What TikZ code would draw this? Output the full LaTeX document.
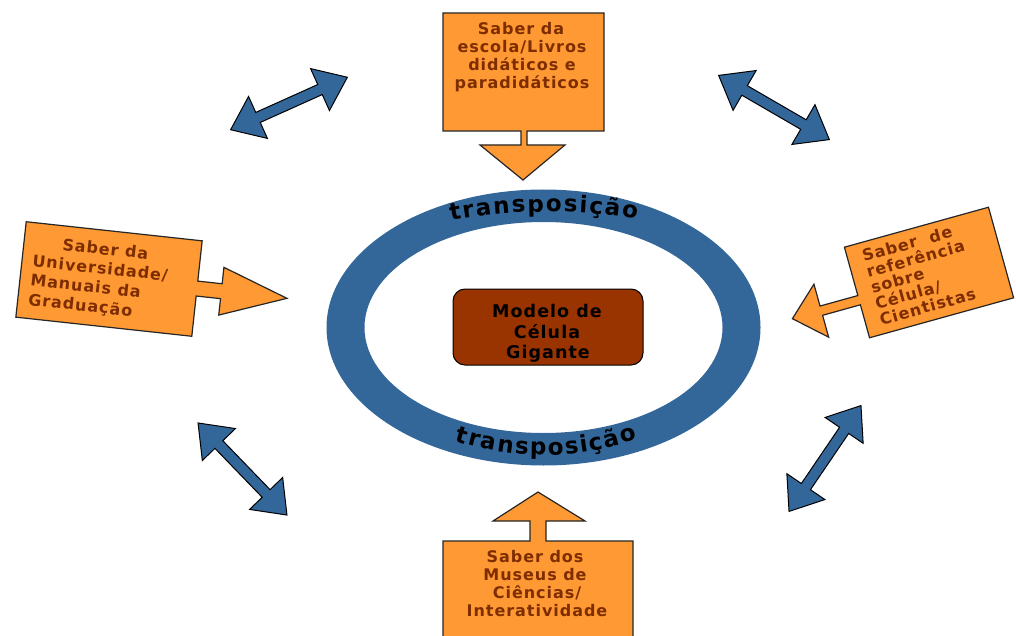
\documentclass[tikz,border=0pt]{standalone}
\usepackage{fontspec}
\newfontfamily\lblfont{DejaVu Sans}[LetterSpace=6]
\newfontfamily\trfont{DejaVu Sans}
\usetikzlibrary{decorations.text}
\definecolor{ringblue}{RGB}{51,102,153}
\definecolor{boxorange}{RGB}{255,153,51}
\definecolor{lblbrown}{RGB}{125,45,0}
\definecolor{cellbrown}{RGB}{153,51,0}
\tikzset{
  orangeshape/.style={fill=boxorange, draw=black!85, line width=1.2pt, line join=miter},
  bluedblarrow/.style={fill=ringblue, draw=black, line width=1pt, line join=miter},
  lbl/.style={font=\lblfont\bfseries\fontsize{16}{18}\selectfont, text=lblbrown, inner sep=0pt},
  celllbl/.style={font=\lblfont\bfseries\fontsize{17.5}{20}\selectfont, text=black, inner sep=0pt},
  dblarrow/.pic={\draw[bluedblarrow] (-64,0) -- (-34,-23) -- (-34,-5.5) -- (34,-5.5) -- (34,-23) -- (64,0) -- (34,23) -- (34,5.5) -- (-34,5.5) -- (-34,23) -- cycle;}
}
\begin{document}
\begin{tikzpicture}[x=1pt,y=-1pt]
\useasboundingbox (0,0) rectangle (1016,636);
\clip (0,0) rectangle (1016,636);

% ring
\fill[ringblue, even odd rule] (543.5,327.5) ellipse [x radius=217, y radius=138]
  (543.5,327.5) ellipse [x radius=179, y radius=105.5];
\path[decorate, decoration={text along path, text={|\trfont\bfseries\fontsize{23}{23}\selectfont|transposição}, text align={fit to path}}]
  (451,221) .. controls (510,209) and (576,209) .. (637,219);
\path[decorate, decoration={text along path, text={|\trfont\bfseries\fontsize{23}{23}\selectfont|transposição}, text align={fit to path}}]
  (455,441) .. controls (515,460) and (577,460) .. (637,439);

% centre
\draw[fill=cellbrown, draw=black, line width=1pt, rounded corners=12pt] (453,289) rectangle (643,365);
\node[celllbl, anchor=base] (c1) at (547,317) {Modelo de};
\node[celllbl, anchor=base] (c2) at (547,338) {Célula};
\node[celllbl, anchor=base] (c3) at (548,358) {Gigante};

% top box
\draw[orangeshape] (443,13) -- (604,13) -- (604,131) -- (527,131) -- (527,145) -- (565,145)
  -- (523,180) -- (480,145) -- (521,145) -- (521,131) -- (443,131) -- cycle;
\node[lbl, anchor=base] (t1) at (521,35) {Saber da};
\node[lbl, anchor=base] (t2) at (522,53) {escola/Livros};
\node[lbl, anchor=base] (t3) at (522,71) {didáticos e};
\node[lbl, anchor=base] (t4) at (522,89) {paradidáticos};

% bottom box
\draw[orangeshape] (443,650) -- (443,541) -- (530,541) -- (530,521) -- (493,521) -- (538,492)
  -- (585,521) -- (546,521) -- (546,541) -- (633,541) -- (633,650);
\node[lbl, anchor=base] (b1) at (535,562) {Saber dos};
\node[lbl, anchor=base] (b2) at (535,580) {Museus de};
\node[lbl, anchor=base] (b3) at (537,598) {Ciências/};
\node[lbl, anchor=base] (b4) at (537,616) {Interatividade};

% left box
\begin{scope}[shift={(109,279)}, rotate=-6.2]
\draw[orangeshape] (-88.5,-48) -- (88.5,-48) -- (88.5,-7.5) -- (113,-7.5) -- (113,-24) -- (179,0)
  -- (113,24) -- (113,7.5) -- (88.5,7.5) -- (88.5,48) -- (-88.5,48) -- cycle;
\node[lbl, font=\lblfont\bfseries\fontsize{16}{19.5}\selectfont, align=left, anchor=north west, rotate=-6.2] (ltext) at (-78,-36)
  {\hspace*{28pt}Saber da\\Universidade/\\Manuais da\\Graduação};
\end{scope}

% right box
\begin{scope}[shift={(929,272.5)}, rotate=15.5]
\draw[orangeshape] (74.75,-47) -- (74.75,47) -- (-74.75,47) -- (-74.75,12.8) -- (-114,12.8)
  -- (-114,35.5) -- (-144,8) -- (-114,-19.5) -- (-114,3.2) -- (-74.75,3.2) -- (-74.75,-47) -- cycle;
\node[lbl, font=\lblfont\bfseries\fontsize{16}{16.5}\selectfont, align=left, anchor=north west, rotate=15.5] (rtext) at (-60,-40)
  {Saber\ \ de\\referência\\sobre\\Célula/\\Cientistas};
\end{scope}

% blue double arrows
\pic[rotate=24.2] at (289,103.5) {dblarrow};
\pic[rotate=-30.1] at (774,107.5) {dblarrow};
\pic[rotate=-46] at (242.5,469) {dblarrow};
\pic[rotate=55.8] at (825,458.5) {dblarrow};
\end{tikzpicture}
\end{document}
